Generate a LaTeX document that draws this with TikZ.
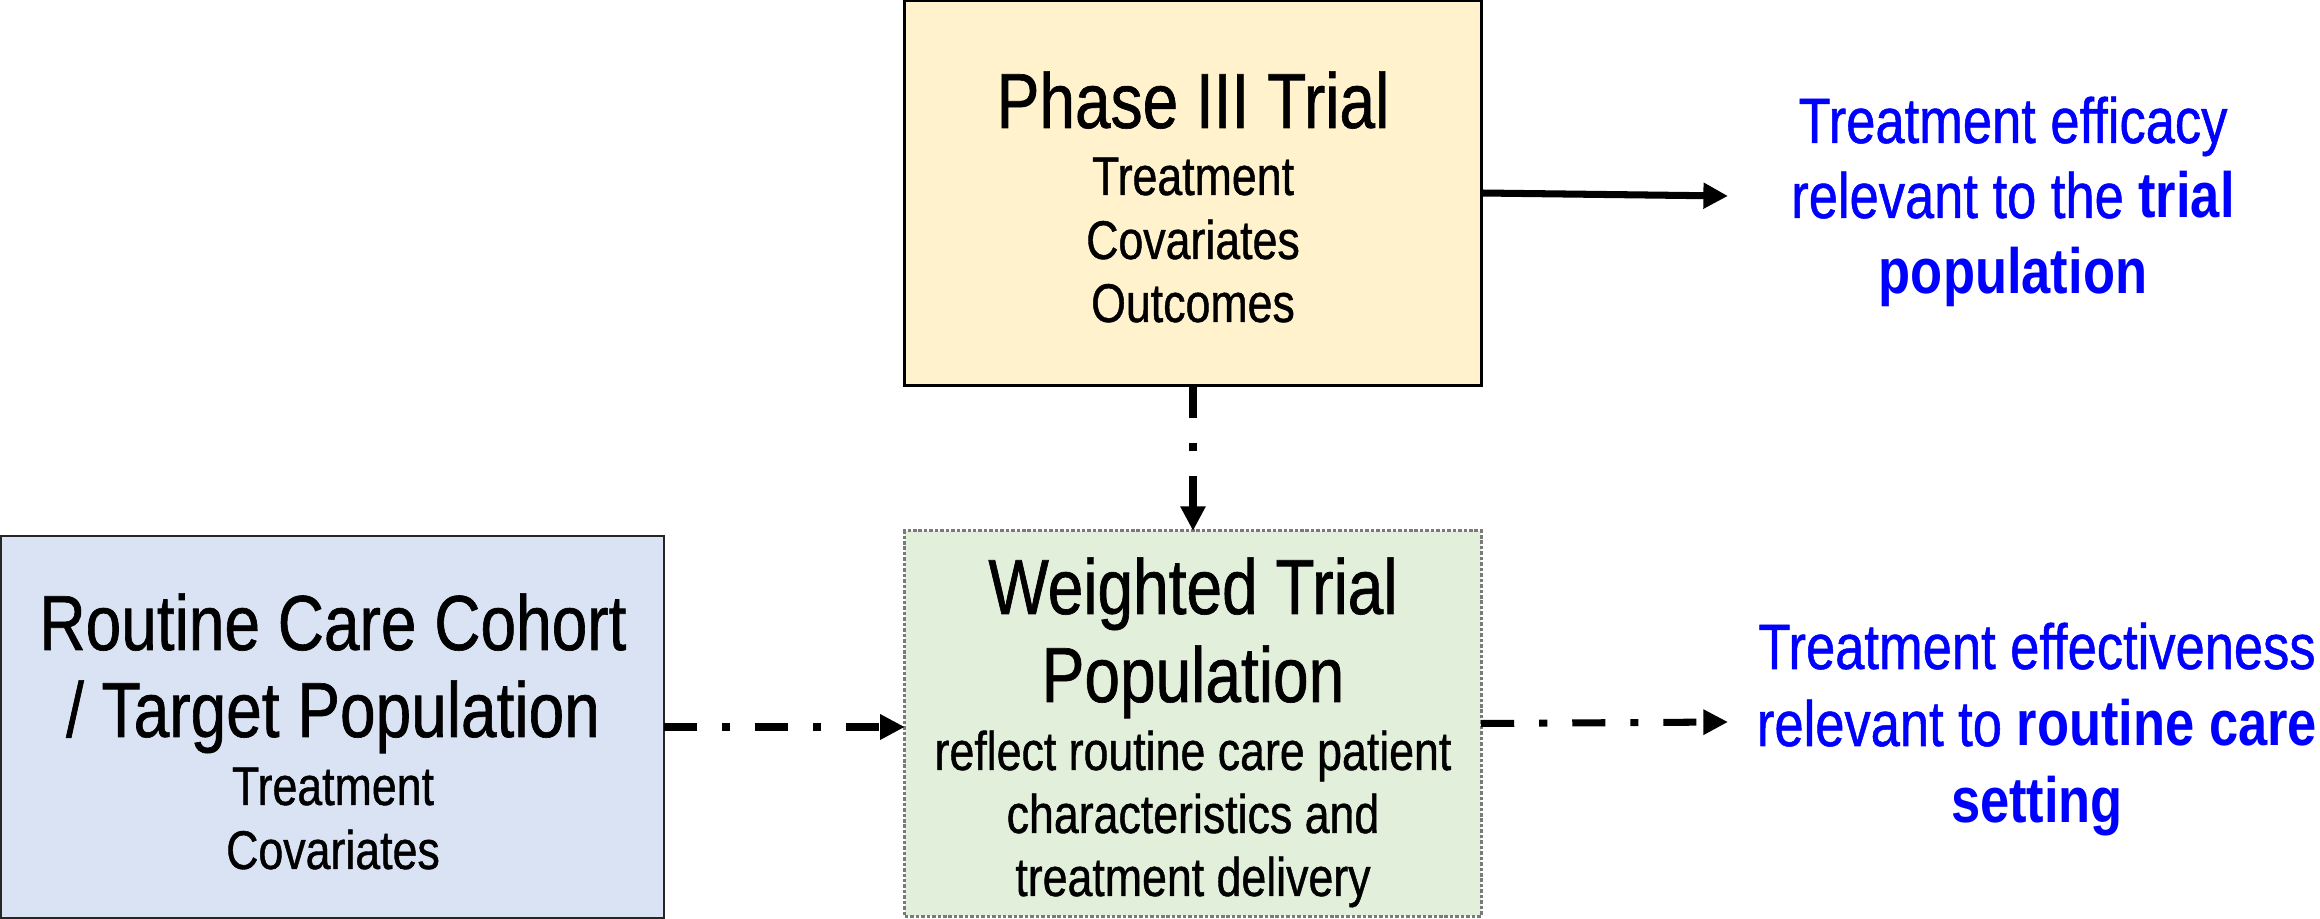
\documentclass[tikz,border=0pt]{standalone}
\usepackage{fontspec}
\setmainfont{Liberation Sans}[FakeStretch=0.82, UprightFeatures={FakeBold=0.8}]
\usetikzlibrary{arrows.meta}
\definecolor{phasefill}{HTML}{FFF2CC}
\definecolor{weightfill}{HTML}{E2EFDA}
\definecolor{routinefill}{HTML}{DAE3F3}
\definecolor{txtblue}{HTML}{0000FF}
\definecolor{dotgray}{HTML}{7A7A7A}
\tikzset{
  boxphase/.style={draw=black, line width=0.8pt, fill=phasefill, inner sep=0, outer sep=0},
  boxweight/.style={draw=dotgray, line width=0.9pt, dash pattern=on 1pt off 0.55pt, fill=weightfill, inner sep=0, outer sep=0},
  boxroutine/.style={draw=black!85, line width=0.6pt, fill=routinefill, inner sep=0, outer sep=0},
  titletxt/.style={font=\fontsize{22.2}{25}\selectfont, anchor=base, inner sep=0},
  bodytxt/.style={font=\fontsize{15.5}{18}\selectfont, anchor=base, inner sep=0},
  bluetxt/.style={font=\fontsize{18.2}{21.6}\selectfont, text=txtblue, anchor=base, inner sep=0},
  solidarrow/.style={line width=2pt, -{Triangle[length=7pt, width=7pt]}},
  dasharrow/.style={line width=2pt, line cap=butt, dash pattern=on 9.4pt off 7.1pt on 2.3pt off 7.1pt, -{Triangle[length=7pt, width=6.8pt]}},
}
\begin{document}
\begin{tikzpicture}[x=0.01cm, y=-0.01cm]
\useasboundingbox (0,0) rectangle (2320,919);
% boxes
\node[boxphase, minimum width=5.76cm, minimum height=3.84cm] (phase) at (1193,193) {};
\node[boxweight, minimum width=5.76cm, minimum height=3.85cm] (weight) at (1193,723.5) {};
\node[boxroutine, minimum width=6.63cm, minimum height=3.82cm] (routine) at (332.5,727) {};
% Phase III text
\node[titletxt] (p1) at (1193,128) {Phase III Trial};
\node[bodytxt] (p2) at (1193,195) {Treatment};
\node[bodytxt] (p3) at (1193,259) {Covariates};
\node[bodytxt] (p4) at (1193,322) {Outcomes};
% Weighted text
\node[titletxt] (w1) at (1193,614) {Weighted Trial};
\node[titletxt] (w2) at (1193,702) {Population};
\node[bodytxt] (w3) at (1193,770) {reflect routine care patient};
\node[bodytxt] (w4) at (1193,833) {characteristics and};
\node[bodytxt] (w5) at (1193,896) {treatment delivery};
% Routine text
\node[titletxt] (r1) at (333,650) {Routine Care Cohort};
\node[titletxt] (r2) at (333,737) {/ Target Population};
\node[bodytxt] (r3) at (333,805) {Treatment};
\node[bodytxt] (r4) at (333,869) {Covariates};
% blue texts
\node[bluetxt] (b1) at (2013,143) {Treatment efficacy};
\node[bluetxt] (b2) at (2013,218) {relevant to the \textbf{trial}};
\node[bluetxt] (b3) at (2013,294) {\textbf{population}};
\node[bluetxt] (c1) at (2037,669) {Treatment effectiveness};
\node[bluetxt] (c2) at (2037,746) {relevant to \textbf{routine care}};
\node[bluetxt] (c3) at (2037,823) {\textbf{setting}};
% arrow ends
\coordinate (topEnd) at (1728,196);
\coordinate (botEnd) at (1728,722);
% connectors
\draw[solidarrow] (phase.east) -- (topEnd);
\draw[dasharrow] (phase.south) -- (weight.north);
\draw[dasharrow] (routine.east) -- (routine.east -| weight.west);
\draw[dasharrow] (weight.east) -- (botEnd);
\end{tikzpicture}
\end{document}
